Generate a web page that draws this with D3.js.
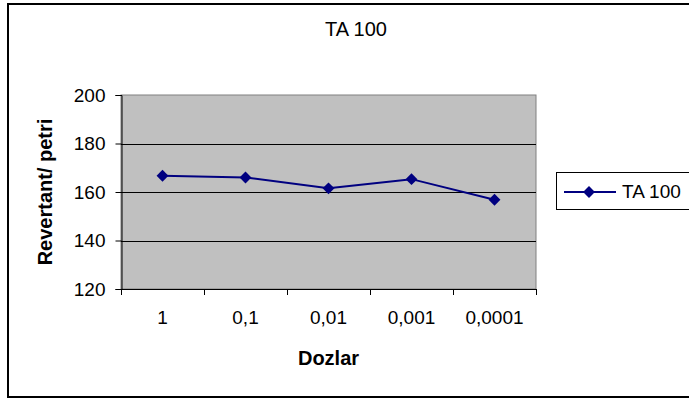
<!DOCTYPE html>
<html>
<head>
<meta charset="utf-8">
<script src="https://cdn.jsdelivr.net/npm/d3@7"></script>
<style>
  html, body { margin: 0; padding: 0; background: #fff; }
  svg { display: block; font-family: "Liberation Sans", Arial, sans-serif; }
</style>
</head>
<body>
<svg id="chart" width="689" height="402"></svg>
<script>
// Dose categories and revertant counts per petri dish (TA 100 strain)
const doses = ["1", "0,1", "0,01", "0,001", "0,0001"];
const revertants = [166.7, 166.0, 161.5, 165.3, 156.8];
const yTicks = [120, 140, 160, 180, 200];
const seriesName = "TA 100";
const chartTitle = "TA 100";
const xTitle = "Dozlar";
const yTitle = "Revertant/ petri";

const FONT = "Liberation Sans, Arial, sans-serif";
const svg = d3.select("#chart");

// Outer chart frame (extends past the right edge)
svg.append("rect")
  .attr("x", 8).attr("y", 4)
  .attr("width", 700).attr("height", 393)
  .attr("fill", "#fff").attr("stroke", "#000").attr("stroke-width", 2);

const plot = { left: 121, right: 536, top: 95, bottom: 289 };

const x = d3.scaleBand().domain(doses).range([plot.left, plot.right]);
const y = d3.scaleLinear().domain([120, 200]).range([plot.bottom, plot.top]);

// Plot area background
svg.append("rect")
  .attr("x", plot.left).attr("y", plot.top)
  .attr("width", plot.right - plot.left).attr("height", plot.bottom - plot.top)
  .attr("fill", "#C0C0C0").attr("stroke", "#808080").attr("stroke-width", 1);

// Horizontal gridlines
svg.append("g")
  .selectAll("line")
  .data(yTicks.filter(d => d !== 120 && d !== 200))
  .join("line")
  .attr("x1", plot.left).attr("x2", plot.right)
  .attr("y1", d => Math.round(y(d)) + 0.5).attr("y2", d => Math.round(y(d)) + 0.5)
  .attr("stroke", "#000").attr("stroke-width", 1);

// Y axis
const yAxis = svg.append("g")
  .attr("transform", `translate(${plot.left + 0.5},0)`)
  .call(d3.axisLeft(y).tickValues(yTicks).tickSize(6).tickPadding(10));
yAxis.select(".domain").attr("stroke", "#000");
yAxis.selectAll(".tick line").attr("stroke", "#000");
yAxis.selectAll("text")
  .attr("font-size", 19).attr("fill", "#000").attr("font-family", FONT);

// X axis with ticks at category boundaries
const xAxis = svg.append("g")
  .attr("transform", `translate(0,${plot.bottom + 0.5})`)
  .call(d3.axisBottom(x).tickSize(0).tickPadding(21));
xAxis.select(".domain").attr("stroke", "#000").attr("d", `M${plot.left},0H${plot.right}`);
xAxis.selectAll("text")
  .attr("font-size", 19).attr("fill", "#000").attr("font-family", FONT);
svg.append("g")
  .selectAll("line")
  .data(d3.range(doses.length + 1))
  .join("line")
  .attr("x1", i => Math.round(plot.left + i * x.bandwidth()) + 0.5)
  .attr("x2", i => Math.round(plot.left + i * x.bandwidth()) + 0.5)
  .attr("y1", plot.bottom).attr("y2", plot.bottom + 6)
  .attr("stroke", "#000");

// Data line
const cx = d => x(d) + x.bandwidth() / 2;
svg.append("path")
  .datum(doses.map((d, i) => [cx(d), y(revertants[i])]))
  .attr("d", d3.line())
  .attr("fill", "none").attr("stroke", "#000080").attr("stroke-width", 2);

const diamond = d3.symbol().type(d3.symbolDiamond2).size(90);
svg.append("g")
  .selectAll("path")
  .data(doses)
  .join("path")
  .attr("transform", (d, i) => `translate(${cx(d)},${y(revertants[i])})`)
  .attr("d", diamond)
  .attr("fill", "#000080");

// Titles
svg.append("text")
  .attr("x", 356).attr("y", 36)
  .attr("text-anchor", "middle").attr("font-size", 20)
  .text(chartTitle);
svg.append("text")
  .attr("x", (plot.left + plot.right) / 2).attr("y", 365)
  .attr("text-anchor", "middle").attr("font-size", 20).attr("font-weight", "bold")
  .text(xTitle);
svg.append("text")
  .attr("transform", `translate(52,${(plot.top + plot.bottom) / 2}) rotate(-90)`)
  .attr("text-anchor", "middle").attr("font-size", 20).attr("font-weight", "bold")
  .text(yTitle);

// Legend
const legend = svg.append("g");
legend.append("rect")
  .attr("x", 556.5).attr("y", 172.5).attr("width", 140).attr("height", 37)
  .attr("fill", "#fff").attr("stroke", "#000").attr("stroke-width", 1);
legend.append("line")
  .attr("x1", 564).attr("x2", 616).attr("y1", 192).attr("y2", 192)
  .attr("stroke", "#000080").attr("stroke-width", 2);
legend.append("path")
  .attr("transform", "translate(589,192)")
  .attr("d", diamond).attr("fill", "#000080");
legend.append("text")
  .attr("x", 622).attr("y", 198).attr("font-size", 19)
  .text(seriesName);
</script>
</body>
</html>
